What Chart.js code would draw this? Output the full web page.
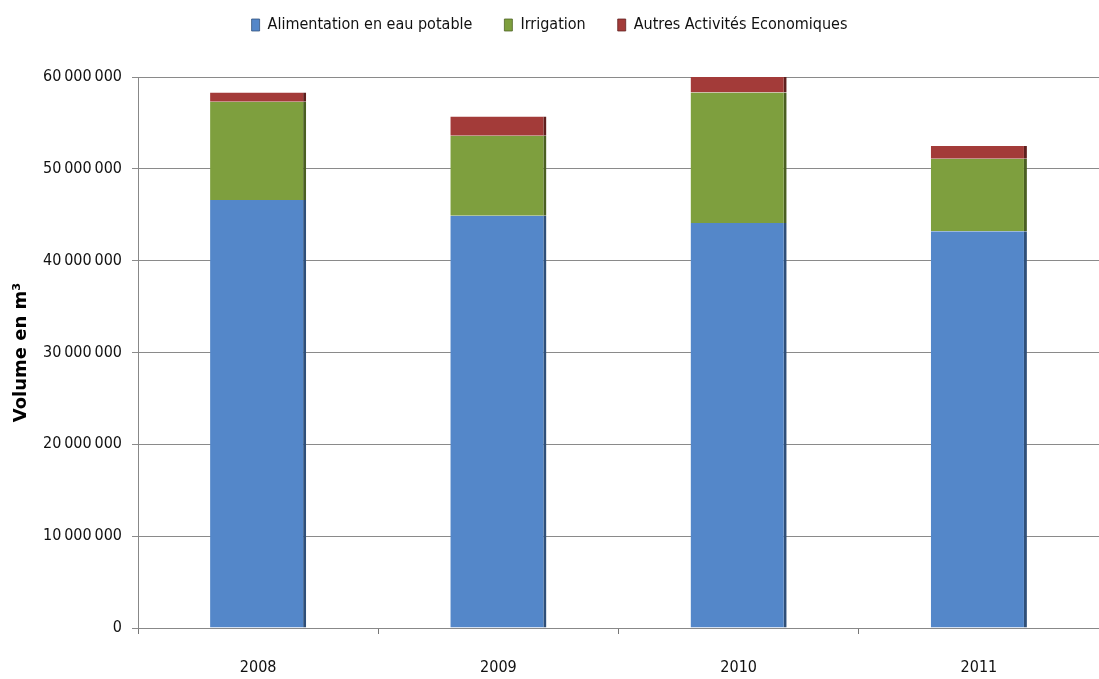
<!DOCTYPE html>
<html>
<head>
<meta charset="utf-8">
<script src="https://cdn.jsdelivr.net/npm/chart.js@4"></script>
<style>
html,body{margin:0;padding:0;background:#fff;}
#wrap{width:1099px;height:679px;position:relative;}
</style>
</head>
<body>
<div id="wrap"><canvas id="c" width="1099" height="679"></canvas></div>
<script>
const categories = ['2008', '2009', '2010', '2011'];
const seriesNames = ['Alimentation en eau potable', 'Irrigation', 'Autres Activités Economiques'];
const eauPotable = [46600000, 44900000, 44100000, 43200000];
const irrigation = [10700000, 8700000, 14200000, 7900000];
const autresActivites = [1000000, 2100000, 1700000, 1400000];
const yTicks = [0, 10000000, 20000000, 30000000, 40000000, 50000000, 60000000];
const yTitle = 'Volume en m³';

const FONT = "'DejaVu Sans Condensed', 'Liberation Sans Narrow', sans-serif";
function fmt(v){ return String(v).replace(/\B(?=(\d{3})+(?!\d))/g, '\u2009'); }

const colors = [
  {fill:'#5487c9', border:'#2f4f78'},
  {fill:'#7e9f3e', border:'#4a5f22'},
  {fill:'#a33b39', border:'#5e1f1e'}
];
const values = [eauPotable, irrigation, autresActivites];

const legendHeight = {
  id: 'legendHeight',
  beforeLayout(chart) {
    const lg = chart.legend;
    if (lg && !lg._patched) {
      const f = lg.fit;
      lg.fit = function() { f.call(this); this.height = 92; };
      lg._patched = true;
    }
  }
};

new Chart(document.getElementById('c'), {
  type: 'bar',
  data: {
    labels: categories,
    datasets: seriesNames.map((n, i) => ({
      label: n,
      data: values[i],
      backgroundColor: colors[i].fill,
      borderColor: colors[i].border,
      borderWidth: {top:0, left:0, right:3, bottom:0},
      borderSkipped: false,
      barPercentage: 0.8,
      categoryPercentage: 0.5
    }))
  },
  plugins: [legendHeight],
  options: {
    responsive: false,
    animation: false,
    layout: {padding: {left: 0, right: 0, top: -15, bottom: 0}},
    plugins: {
      legend: {
        position: 'top',
        labels: {
          font: {family: FONT, size: 16},
          color: '#111',
          boxWidth: 8,
          boxHeight: 12,
          padding: 32
        }
      },
      tooltip: {enabled: false}
    },
    scales: {
      x: {
        stacked: true,
        grid: {display: true, drawOnChartArea: false, drawTicks: true, tickLength: 6, color: '#777', offset: true},
        border: {display: true, color: '#888', width: 1},
        ticks: {font: {family: FONT, size: 16}, color: '#111', padding: 24},
        afterFit: s => { s.height = 51; }
      },
      y: {
        stacked: true,
        min: 0,
        max: 60000000,
        afterBuildTicks: s => { s.ticks = yTicks.map(v => ({value: v})); },
        grid: {color: '#8a8a8a', lineWidth: 1, tickLength: 6},
        border: {display: true, color: '#888', width: 1},
        ticks: {font: {family: FONT, size: 16}, color: '#111', padding: 10, callback: v => fmt(v)},
        title: {display: true, text: yTitle, font: {family: "'DejaVu Sans', sans-serif", size: 18, weight: 'bold'}, color: '#000', padding: {top: 11, bottom: 20}},
        afterFit: s => { s.width = 138; }
      }
    }
  }
});
</script>
</body>
</html>
